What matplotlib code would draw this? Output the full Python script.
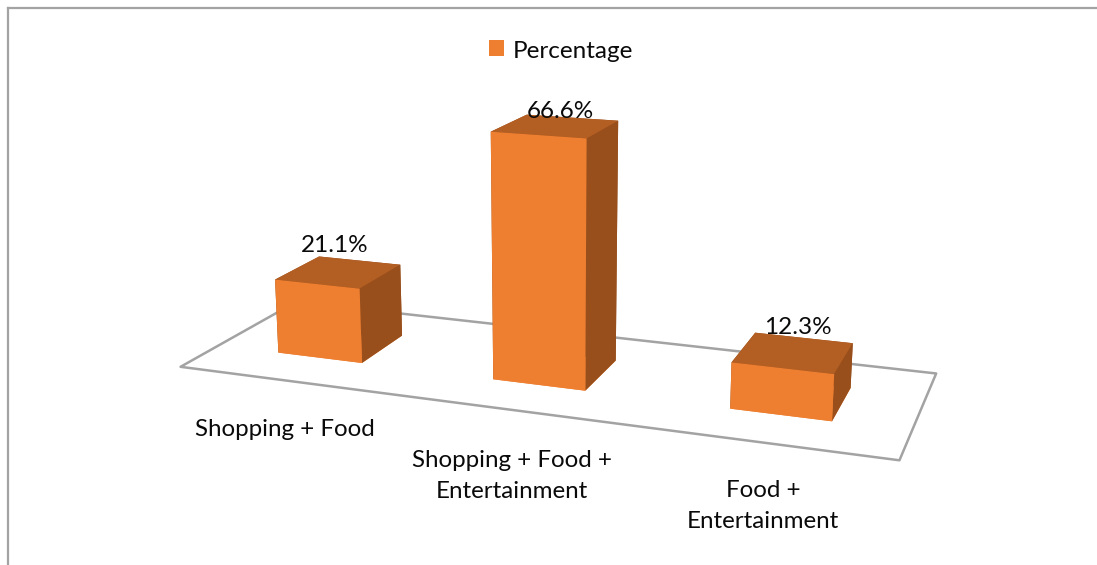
import matplotlib
matplotlib.use('Agg')
import matplotlib.pyplot as plt
from matplotlib.lines import Line2D
from matplotlib.patches import Patch
from mpl_toolkits.mplot3d.art3d import Poly3DCollection

plt.rcParams['font.family'] = ['Lato', 'DejaVu Sans']

categories = ['Shopping + Food', 'Shopping + Food +\nEntertainment', 'Food +\nEntertainment']
values = [21.1, 66.6, 12.3]
series_name = 'Percentage'

FIG_W, FIG_H = 1097, 565

# bar faces: front, top, right side
FRONT = '#EE7F31'
TOP = '#B35E23'
SIDE = '#984F1C'
GRID = '#A3A3A3'
TEXT = '#0A0A0A'

BAR_W = 0.4005
BAR_Y0, BAR_Y1 = 0.2996, 0.6957
Z_MAX = 70

# camera and where the projection plane sits on the canvas (pixels)
SCALE = 4281.12
ORIGIN_X, ORIGIN_Y = 555.73, 243.98

value_label_xy = [(335, 246), (560, 112), (798, 328)]
category_label_xy = [(285, 430), (512, 476), (763, 506)]


def fx(x):
    return x / FIG_W


def fy(y):
    return 1 - y / FIG_H


fig = plt.figure(figsize=(FIG_W / 100, FIG_H / 100), dpi=100, facecolor='white')
ax = fig.add_axes([0, 0, 1, 1], projection='3d', computed_zorder=False)
ax.set_axis_off()
ax.patch.set_alpha(0)
ax.set_xlim(0, 3)
ax.set_ylim(0, 1)
ax.set_zlim(0, Z_MAX)
ax.view_init(elev=14.8535, azim=-70.0192, roll=-0.0168)
ax.set_proj_type('persp', focal_length=0.3834 + 1e-3)
ax.set_box_aspect((3, 1.0038, 1.088))

# size the square axes so that one projected unit is SCALE pixels
x0, x1 = ax.viewLim.intervalx
y0, y1 = ax.viewLim.intervaly
left = ORIGIN_X + SCALE * x0
bottom = ORIGIN_Y - SCALE * y0
ax.set_position([left / FIG_W, 1 - bottom / FIG_H,
                 SCALE * (x1 - x0) / FIG_W, SCALE * (y1 - y0) / FIG_H])

# floor of the chart
floor = Poly3DCollection([[(0, 0, 0), (3, 0, 0), (3, 1, 0), (0, 1, 0)]],
                         facecolor='white', edgecolor=GRID, linewidth=1.8, zorder=1)
ax.add_collection3d(floor)

# bar3d face order: bottom, top, front, back, left, right
for i, v in enumerate(values):
    ax.bar3d(i + 0.5 - BAR_W / 2, BAR_Y0, 0, BAR_W, BAR_Y1 - BAR_Y0, v,
             color=[FRONT, TOP, FRONT, SIDE, SIDE, SIDE], shade=False,
             edgecolor='none', zorder=2 + i)

for v, (x, y) in zip(values, value_label_xy):
    fig.text(fx(x), fy(y), f'{v}%', ha='center', va='center', fontsize=17.5, color=TEXT)

for name, (x, y) in zip(categories, category_label_xy):
    fig.text(fx(x), fy(y), name, ha='center', va='center', fontsize=17.4, color=TEXT,
             linespacing=1.55)

legend = fig.legend(handles=[Patch(facecolor=FRONT, edgecolor='none')], labels=[series_name],
                    loc='center', bbox_to_anchor=(fx(561), fy(50)), frameon=False, fontsize=17.5,
                    handlelength=0.62, handleheight=0.62, handletextpad=0.33, labelcolor=TEXT)
legend.get_texts()[0].set_y(-1.5)

# chart frame, only its top and left edges are on the canvas
fig.add_artist(Line2D([fx(8), 1], [fy(8), fy(8)], color=GRID, linewidth=1.6))
fig.add_artist(Line2D([fx(8), fx(8)], [fy(8), 0], color=GRID, linewidth=1.6))

fig.savefig('out.png', dpi=100, facecolor='white')
